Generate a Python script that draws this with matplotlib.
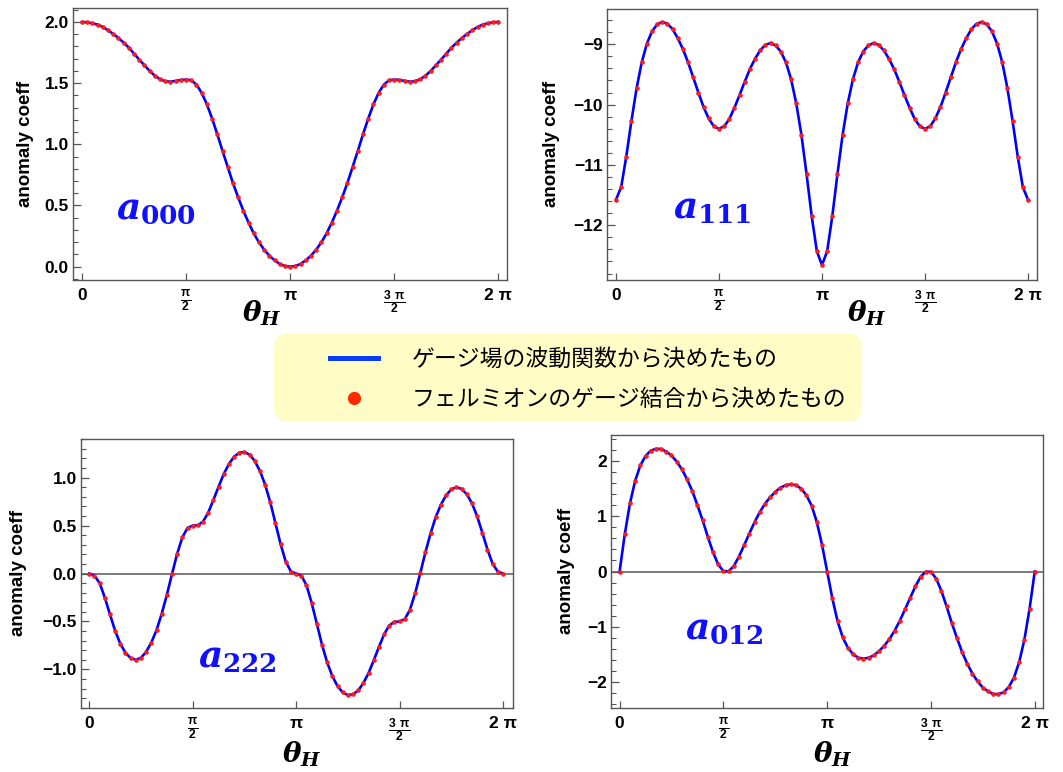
import numpy as np
import matplotlib
matplotlib.use("Agg")
import matplotlib.pyplot as plt
from matplotlib.ticker import MultipleLocator, FixedLocator, FixedFormatter
from matplotlib.patches import FancyBboxPatch
from matplotlib.lines import Line2D

plt.rcParams['font.family'] = ['Liberation Sans', 'Noto Sans CJK JP', 'DejaVu Sans']
plt.rcParams['font.weight'] = 'bold'
plt.rcParams['mathtext.fontset'] = 'custom'
plt.rcParams['mathtext.it'] = 'DejaVu Serif:italic:bold'
plt.rcParams['mathtext.rm'] = 'DejaVu Serif:bold'
plt.rcParams['mathtext.bf'] = 'DejaVu Serif:bold'
plt.rcParams['mathtext.sf'] = 'Liberation Sans:bold'
plt.rcParams['axes.unicode_minus'] = True

# sample points: theta_H = 0 .. 2 pi in 80 steps
theta = np.linspace(0, 2 * np.pi, 81)

a000 = [2.000, 1.997, 1.989, 1.978, 1.959, 1.932, 1.902, 1.869, 1.831, 1.790,
        1.741, 1.692, 1.646, 1.599, 1.561, 1.531, 1.515, 1.512, 1.518, 1.526,
        1.529, 1.523, 1.488, 1.420, 1.327, 1.210, 1.082, 0.946, 0.815, 0.684,
        0.567, 0.458, 0.360, 0.272, 0.199, 0.139, 0.090, 0.052, 0.022, 0.005,
        0.000,
        0.005, 0.022, 0.052, 0.090, 0.139, 0.199, 0.272, 0.360, 0.458, 0.567,
        0.684, 0.815, 0.946, 1.082, 1.210, 1.327, 1.420, 1.488, 1.523, 1.529,
        1.526, 1.518, 1.512, 1.515, 1.531, 1.561, 1.599, 1.646, 1.692, 1.741,
        1.790, 1.831, 1.869, 1.902, 1.932, 1.959, 1.978, 1.989, 1.997, 2.000]

a111 = [-11.575, -11.37, -10.86, -10.27, -9.73, -9.30, -8.99, -8.785, -8.67, -8.63,
        -8.66, -8.75, -8.90, -9.08, -9.30, -9.55, -9.80, -10.04, -10.23, -10.36,
        -10.40, -10.36, -10.24, -10.05, -9.84, -9.62, -9.41, -9.24, -9.10, -9.01,
        -8.98, -9.02, -9.12, -9.30, -9.58, -9.98, -10.50, -11.15, -11.85, -12.43,
        -12.66,
        -12.43, -11.85, -11.15, -10.50, -9.98, -9.58, -9.30, -9.12, -9.02, -8.98,
        -9.01, -9.10, -9.24, -9.41, -9.62, -9.84, -10.05, -10.24, -10.36, -10.40,
        -10.36, -10.23, -10.04, -9.80, -9.55, -9.30, -9.08, -8.90, -8.75, -8.66,
        -8.63, -8.67, -8.785, -8.99, -9.30, -9.73, -10.27, -10.86, -11.37, -11.575]

a222 = [0.000, -0.021, -0.100, -0.250, -0.427, -0.597, -0.733, -0.826, -0.882, -0.900,
        -0.878, -0.816, -0.719, -0.590, -0.420, -0.222, -0.003, 0.208, 0.378, 0.476,
        0.500, 0.503, 0.542, 0.635, 0.767, 0.906, 1.038, 1.142, 1.219, 1.260,
        1.267, 1.240, 1.174, 1.069, 0.927, 0.743, 0.524, 0.306, 0.122, 0.021,
        0.000,
        -0.021, -0.122, -0.306, -0.524, -0.743, -0.927, -1.069, -1.174, -1.240, -1.267,
        -1.260, -1.219, -1.142, -1.038, -0.906, -0.767, -0.635, -0.542, -0.503, -0.500,
        -0.476, -0.378, -0.208, 0.003, 0.222, 0.420, 0.590, 0.719, 0.816, 0.878,
        0.900, 0.882, 0.826, 0.733, 0.597, 0.427, 0.250, 0.100, 0.021, 0.000]

a012 = [0.000, 0.675, 1.235, 1.640, 1.920, 2.090, 2.187, 2.220, 2.217, 2.169,
        2.100, 1.990, 1.850, 1.670, 1.458, 1.200, 0.928, 0.627, 0.350, 0.127,
        0.006, 0.004, 0.096, 0.270, 0.476, 0.687, 0.890, 1.072, 1.223, 1.343,
        1.440, 1.518, 1.560, 1.578, 1.560, 1.500, 1.380, 1.193, 0.898, 0.488,
        0.000,
        -0.488, -0.898, -1.193, -1.380, -1.500, -1.560, -1.578, -1.560, -1.518, -1.440,
        -1.343, -1.223, -1.072, -0.890, -0.687, -0.476, -0.270, -0.096, -0.004, -0.006,
        -0.127, -0.350, -0.627, -0.928, -1.200, -1.458, -1.670, -1.850, -1.990, -2.100,
        -2.169, -2.217, -2.220, -2.187, -2.090, -1.920, -1.640, -1.235, -0.675, 0.000]

xtick_pos = [0, np.pi / 2, np.pi, 3 * np.pi / 2, 2 * np.pi]
xtick_lab = ['0', r'$\frac{\mathsf{\pi}}{\mathsf{2}}$', 'π',
             r'$\frac{\mathsf{3\ \pi}}{\mathsf{2}}$', '2 π']

legend_labels = ['ゲージ場の波動関数から決めたもの', 'フェルミオンのゲージ結合から決めたもの']

W, H = 1063, 772
fig = plt.figure(figsize=(W / 100, H / 100), dpi=100)


def rect(l, t, r, b):
    return [l / W, 1 - b / H, (r - l) / W, (b - t) / H]


def px(x, y):
    return x / W, 1 - y / H


panels = [
    # values, frame, xlim, ylim, major, minor, name, name pos, theta pos, ylabel pos, zero line
    (a000, (73, 8, 507, 280), (-0.136, 6.414), (-0.109, 2.114), 0.5, 0.1,
     r'$a_{000}$', (156, 208), (262, 313), (25, 144), False),
    (a111, (607, 9, 1037, 280), (-0.137, 6.42), (-12.907, -8.415), 1, 0.2,
     r'$a_{111}$', (712, 208), (867, 313), (551, 144), False),
    (a222, (81, 439, 513, 708), (-0.126, 6.435), (-1.402, 1.403), 0.5, 0.1,
     r'$a_{222}$', (237, 657), (302, 754), (19, 573), True),
    (a012, (611, 435, 1043, 708), (-0.13, 6.408), (-2.47, 2.47), 1, 0.2,
     r'$a_{012}$', (724, 628), (833, 754), (566, 571), True),
]

for vals, frame, xl, yl, major, minor, name, npos, tpos, lpos, zero in panels:
    ax = fig.add_axes(rect(*frame))
    if zero:
        ax.axhline(0, color='#7a7a7a', lw=1.4, zorder=1)
    ax.plot(theta, vals, color='#0000ff', lw=1.9, zorder=2)
    ax.plot(theta, vals, 'o', color='#ff1a1a', ms=3.3, mec='none', zorder=3)
    ax.set_xlim(*xl)
    ax.set_ylim(*yl)
    ax.yaxis.set_major_locator(MultipleLocator(major))
    ax.yaxis.set_minor_locator(MultipleLocator(minor))
    ax.xaxis.set_major_locator(FixedLocator(xtick_pos))
    ax.xaxis.set_major_formatter(FixedFormatter(xtick_lab))
    ax.tick_params(which='both', direction='in', top=False, right=False,
                   color='#555555', labelsize=12.5)
    ax.tick_params(axis='y', which='major', length=6, width=0.9, pad=3)
    ax.tick_params(axis='y', which='minor', length=3.5, width=0.8)
    ax.tick_params(axis='x', which='major', length=5, width=0.9, pad=6)
    for sp in ax.spines.values():
        sp.set_color('#555555')
        sp.set_linewidth(1.0)
    fig.text(*px(*npos), name, color='#1010ff', fontsize=27, ha='center', va='center')
    fig.text(*px(*tpos), r'$\theta_H$', color='black', fontsize=20, ha='center', va='center')
    fig.text(*px(*lpos), 'anomaly coeff', rotation=90, fontsize=13.5,
             fontweight='bold', ha='center', va='center')

# legend box
bg = fig.add_axes([0, 0, 1, 1], zorder=-1)
bg.set_xlim(0, W)
bg.set_ylim(H, 0)
bg.axis('off')
bg.add_patch(FancyBboxPatch((274, 333), 588, 89, boxstyle='round,pad=0,rounding_size=16',
                            facecolor='#fffcc6', edgecolor='none'))

handles = [Line2D([], [], color='#0a3cff', lw=3.6),
           Line2D([], [], ls='none', marker='o', ms=9.5, color='#ff2a00', mec='none')]
leg = fig.legend(handles, legend_labels, loc='upper left', bbox_to_anchor=px(330, 348),
                 frameon=False, borderpad=0, borderaxespad=0,
                 handlelength=2.09, handletextpad=1.48, labelspacing=0.74,
                 prop={'family': ['Noto Sans CJK JP', 'DejaVu Sans'], 'weight': 'normal', 'size': 16.5})

fig.savefig('out.png', dpi=100)
